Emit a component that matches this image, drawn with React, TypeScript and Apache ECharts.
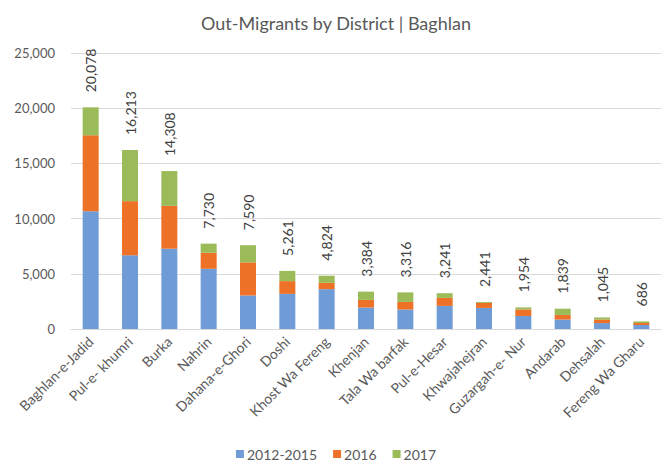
import React, { useEffect, useRef } from "react";
import * as echarts from "echarts";

const categories = [
  "Baghlan-e-Jadid",
  "Pul-e- khumri",
  "Burka",
  "Nahrin",
  "Dahana-e-Ghori",
  "Doshi",
  "Khost Wa Fereng",
  "Khenjan",
  "Tala Wa barfak",
  "Pul-e-Hesar",
  "Khwajahejran",
  "Guzargah-e- Nur",
  "Andarab",
  "Dehsalah",
  "Fereng Wa Gharu",
];

const seriesNames = ["2012-2015", "2016", "2017"];
const values20122015 = [10670, 6672, 7272, 5454, 3036, 3182, 3609, 1945, 1763, 2090, 1909, 1182, 854, 536, 364];
const values2016 = [6875, 4908, 3882, 1454, 3000, 1154, 572, 691, 691, 728, 450, 590, 420, 320, 180];
const values2017 = [2533, 4633, 3154, 822, 1554, 925, 643, 748, 862, 423, 82, 182, 565, 189, 142];
const yTicks = [0, 5000, 10000, 15000, 20000, 25000];

const colors = ["#6f9bd7", "#ed7127", "#9bbb59"];
const FONT = "Lato, 'Open Sans', sans-serif";

const fmt = (v: number) => v.toLocaleString("en-US");

export default function App() {
  const ref = useRef<HTMLDivElement>(null);
  useEffect(() => {
    document.body.style.margin = "0";
    if (!ref.current) return;
    const chart = echarts.init(ref.current, undefined, { renderer: "svg" });
    const totals = categories.map((_, i) => values20122015[i] + values2016[i] + values2017[i]);
    const dataSets = [values20122015, values2016, values2017];
    chart.setOption({
      animation: false,
      backgroundColor: "#ffffff",
      title: {
        text: "Out-Migrants by District | Baghlan",
        left: "center",
        top: 9,
        textStyle: { fontFamily: FONT, fontSize: 18, fontWeight: "normal", color: "#595959" },
      },
      grid: { left: 71, right: 11, top: 53, bottom: 139, containLabel: false },
      legend: {
        bottom: 2,
        left: "center",
        icon: "rect",
        itemWidth: 8,
        itemHeight: 8,
        itemGap: 16,
        textStyle: { fontFamily: FONT, fontSize: 14, color: "#595959", padding: [0, 0, 0, -2] },
        data: seriesNames,
      },
      xAxis: {
        type: "category",
        data: categories,
        axisLine: { lineStyle: { color: "#d9d9d9", width: 1 } },
        axisTick: { show: false },
        axisLabel: {
          rotate: 45,
          interval: 0,
          margin: 10,
          fontFamily: FONT,
          fontSize: 14,
          color: "#595959",
        },
      },
      yAxis: {
        type: "value",
        min: yTicks[0],
        max: yTicks[yTicks.length - 1],
        interval: 5000,
        axisLine: { show: false },
        axisTick: { show: false },
        splitLine: { lineStyle: { color: "#d9d9d9", width: 1 } },
        axisLabel: {
          margin: 16,
          fontFamily: FONT,
          fontSize: 13,
          color: "#595959",
          formatter: (v: number) => fmt(v),
        },
      },
      series: seriesNames.map((name, si) => ({
        name,
        type: "bar",
        stack: "total",
        barWidth: 16,
        data: dataSets[si],
        itemStyle: { color: colors[si] },
        label:
          si === 2
            ? {
                show: true,
                position: "top",
                rotate: 90,
                align: "left",
                verticalAlign: "middle",
                distance: 15,
                fontFamily: FONT,
                fontSize: 14,
                color: "#404040",
                formatter: (p: any) => fmt(totals[p.dataIndex]),
              }
            : { show: false },
      })),
    });
    return () => chart.dispose();
  }, []);
  return <div ref={ref} style={{ width: 672, height: 468 }} />;
}
